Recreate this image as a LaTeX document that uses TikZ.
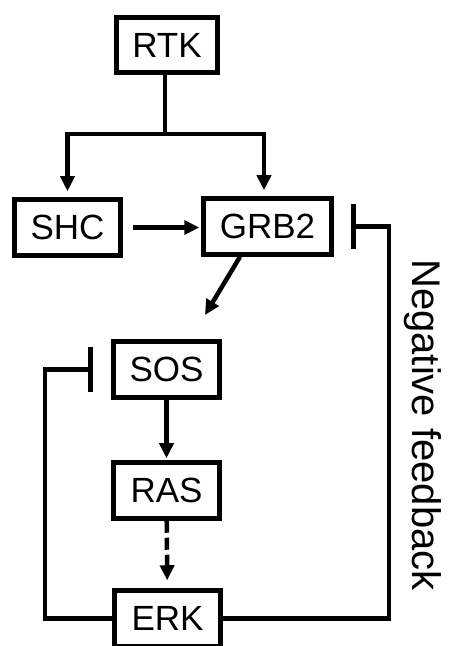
\documentclass[tikz,border=0pt]{standalone}
\usepackage{fontspec}
\setmainfont{Liberation Sans}
\usetikzlibrary{arrows.meta, positioning, calc}

\begin{document}
\begin{tikzpicture}[
    x=1pt, y=1pt,
    >={Triangle[length=15pt, width=14pt]},
    font=\fontsize{35}{40}\selectfont,
    box/.style={draw, line width=5pt, minimum width=105.5pt, minimum height=55.5pt, inner sep=0pt},
    flow/.style={->, line width=4.5pt},
    dashflow/.style={flow, dash pattern=on 12pt off 5pt},
    inhibit/.style={-{Bar[width=45pt, line width=5pt]}, line width=4.5pt}
]
\useasboundingbox (0,0) rectangle (448,646);

% Signalling cascade
\node[box, minimum width=101.5pt] (rtk) at (167, 601) {RTK};
\node[box] (shc) at (67.5, 418.5) {SHC};
\node[box, minimum width=127.5pt] (grb2) at (267.5, 419.5) {GRB2};
\node[box] (sos) at (166.5, 276.5) {SOS};
\node[box] (ras) at (166.5, 155.5) {RAS};
\node[box] (erk) at (167.5, 27.5) {ERK};

% RTK branches to SHC and GRB2
\draw[line width=4.5pt] ([xshift=-2pt]rtk.south) -- ++(0,-59) coordinate (split);
\draw[flow, shorten >=6pt] (split) -| (shc.north);
\draw[flow, shorten >=6pt] (split) -| ([xshift=-3.5pt]grb2.north);
\draw[flow, shorten <=10pt, shorten >=2pt] (shc.east) -- (shc.east -| grb2.west);

% GRB2 towards SOS
\coordinate (sosin) at (205, 331);
\draw[flow] ([xshift=-27.5pt]grb2.south) -- (sosin);

\draw[flow, shorten >=2pt] (sos) -- (ras);
\draw[dashflow, shorten >=8pt] (ras) -- (erk);

% Negative feedback loops
\coordinate (fbright) at (389, 0);
\coordinate (fbleft) at (45, 0);
\draw[inhibit, shorten >=17pt] (erk.east) -| (fbright |- grb2.east) -- (grb2.east);
\draw[inhibit, shorten >=18.5pt] (erk.west) -| (fbleft |- sos.west) -- (sos.west);

\node[rotate=-90, inner sep=0pt, font=\fontsize{40}{44}\selectfont] (fblabel) at (423, 221) {Negative feedback};

\end{tikzpicture}
\end{document}
